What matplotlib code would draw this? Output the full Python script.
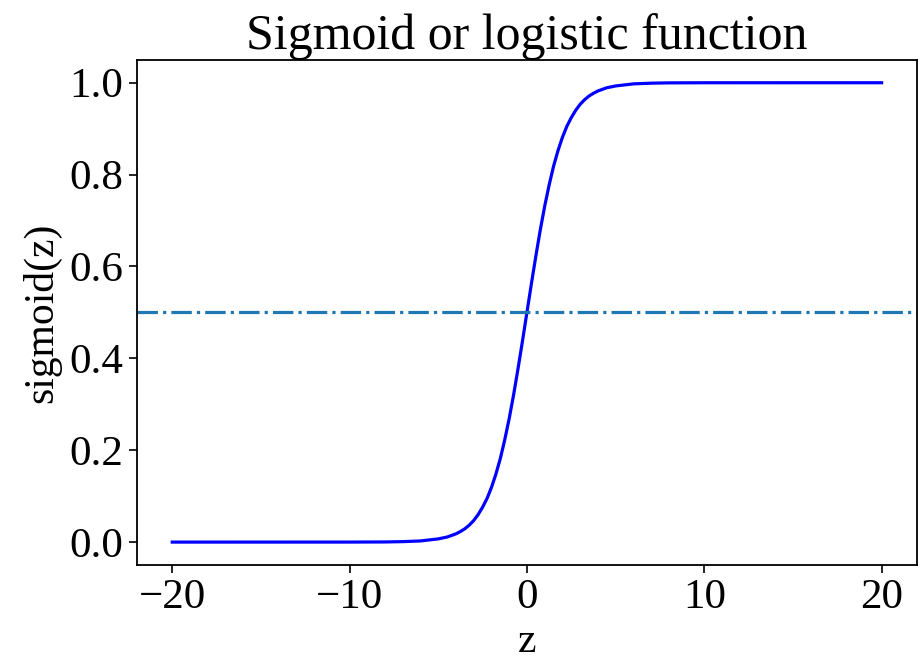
import matplotlib
matplotlib.use('Agg')
import matplotlib.pyplot as plt

# values
z = [-20, -10, -8, -7, -6, -5, -4.5,
     -4, -3.75, -3.5, -3.25, -3, -2.75, -2.5, -2.25, -2, -1.75, -1.5, -1.25,
     -1, -0.75, -0.5, -0.25, 0, 0.25, 0.5, 0.75, 1, 1.25, 1.5, 1.75,
     2, 2.25, 2.5, 2.75, 3, 3.25, 3.5, 3.75, 4,
     4.5, 5, 6, 7, 8, 10, 20]
sig = [0.0, 0.00005, 0.0003, 0.001, 0.0025, 0.007, 0.011,
       0.018, 0.023, 0.029, 0.037, 0.047, 0.060, 0.076, 0.095, 0.119, 0.148, 0.182, 0.223,
       0.269, 0.321, 0.378, 0.438, 0.5, 0.562, 0.622, 0.679, 0.731, 0.777, 0.818, 0.852,
       0.881, 0.905, 0.924, 0.940, 0.953, 0.963, 0.971, 0.977, 0.982,
       0.989, 0.993, 0.9975, 0.999, 0.9997, 0.99995, 1.0]
hline_y = 0.5

plt.rcParams['font.family'] = ['Liberation Serif', 'DejaVu Serif']
plt.rcParams['mathtext.fontset'] = 'stix'

fig = plt.figure(figsize=(9.18, 6.64), dpi=100)
ax = fig.add_axes([0.149, 0.149, 0.850, 0.761])
ax.plot(z, sig, color='blue', lw=2.3)
ax.axhline(hline_y, ls='-.', color='tab:blue', lw=2.3)
ax.set_title('Sigmoid or logistic function', fontsize=36, pad=8)
ax.set_xlabel('z', fontsize=30)
ax.set_ylabel('sigmoid(z)', fontsize=30, labelpad=6)
ax.set_yticks([0.0, 0.2, 0.4, 0.6, 0.8, 1.0])
ax.tick_params(labelsize=31, length=6, width=1.2)
for s in ax.spines.values():
    s.set_linewidth(1.3)

fig.savefig('out.png', dpi=100)
